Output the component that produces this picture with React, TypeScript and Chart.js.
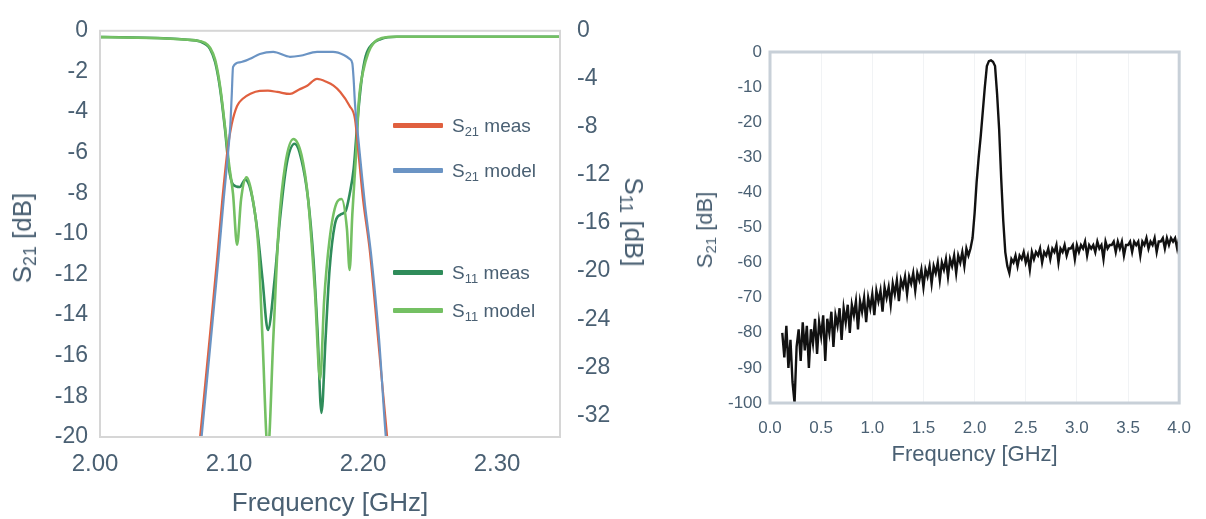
import React, { useEffect, useRef } from "react";
import { Chart, registerables } from "chart.js";
Chart.register(...registerables);

// ---------------- Narrow-band panel (left) ----------------
const narrowFreqTicks = [2.0, 2.1, 2.2, 2.3];
const s21Ticks = [0, -2, -4, -6, -8, -10, -12, -14, -16, -18, -20];
const s11Ticks = [0, -4, -8, -12, -16, -20, -24, -28, -32];

const s21MeasFreq = [2.072, 2.0784, 2.085, 2.091, 2.095, 2.099, 2.102, 2.106, 2.11, 2.116, 2.123, 2.129, 2.136, 2.1455, 2.152, 2.158, 2.1657, 2.173, 2.178, 2.183, 2.19, 2.194, 2.197, 2.2, 2.205, 2.211, 2.218, 2.224];
const s21Meas = [-24.5, -20, -15.5, -11.3, -8.3, -5.8, -4.6, -3.7, -3.36, -3.1, -2.96, -2.95, -3.01, -3.11, -2.9, -2.72, -2.37, -2.52, -2.7, -3.01, -3.7, -4.35, -6.3, -8.3, -10.8, -15, -20, -24];

const s21ModelFreq = [2.073, 2.0795, 2.086, 2.092, 2.096, 2.099, 2.101, 2.102, 2.103, 2.108, 2.1157, 2.123, 2.133, 2.1455, 2.153, 2.1657, 2.1776, 2.186, 2.19, 2.192, 2.193, 2.194, 2.196, 2.199, 2.2015, 2.206, 2.212, 2.217, 2.223];
const s21Model = [-24.5, -20, -15.5, -11.3, -8.3, -6.2, -4.6, -3.2, -1.78, -1.55, -1.38, -1.14, -1.04, -1.28, -1.23, -1.04, -1.04, -1.2, -1.38, -1.6, -2.4, -3.6, -5, -7, -8.6, -11, -15.2, -20, -24];

const s11MeasFreq = [1.99, 2.075, 2.0821, 2.0858, 2.0896, 2.0933, 2.097, 2.1, 2.103, 2.108, 2.112, 2.116, 2.121, 2.125, 2.129, 2.134, 2.138, 2.143, 2.149, 2.154, 2.159, 2.163, 2.166, 2.169, 2.172, 2.175, 2.179, 2.183, 2.187, 2.19, 2.193, 2.196, 2.199, 2.202, 2.207, 2.213, 2.225, 2.36];
const s11Meas = [-0.5, -0.8, -1.1, -1.5, -2.6, -4.8, -8.2, -11.5, -12.8, -13, -12.4, -13.2, -16.5, -20.7, -24.9, -20.7, -15.7, -11.1, -9.4, -10.7, -14, -19, -24.9, -31.8, -25.7, -19.9, -16.1, -15.3, -15, -13.6, -11.5, -7.3, -4, -2.1, -1.1, -0.7, -0.5, -0.5];

const s11ModelFreq = [1.99, 2.075, 2.0821, 2.0858, 2.0896, 2.0933, 2.097, 2.1, 2.103, 2.106, 2.109, 2.113, 2.117, 2.122, 2.125, 2.129, 2.133, 2.137, 2.142, 2.148, 2.154, 2.159, 2.164, 2.168, 2.171, 2.175, 2.18, 2.184, 2.188, 2.19, 2.192, 2.195, 2.197, 2.2, 2.204, 2.208, 2.214, 2.225, 2.36];
const s11Model = [-0.5, -0.8, -1.0, -1.4, -2.4, -4.6, -8, -11.1, -13.6, -17.8, -14, -12.2, -13.6, -18.2, -25.7, -35, -25.7, -16.5, -11.1, -9, -10.3, -14, -21.5, -29, -22.4, -17.4, -14.4, -14, -16.5, -19.9, -15.3, -9.9, -5.7, -3.4, -1.8, -1.0, -0.6, -0.5, -0.5];

const narrowLabels = ["S\u2082\u2081 meas", "S\u2082\u2081 model", "S\u2081\u2081 meas", "S\u2081\u2081 model"];
const narrowLegendSub = [["21", "meas"], ["21", "model"], ["11", "meas"], ["11", "model"]];
const narrowColors = ["#e0603f", "#6b94c4", "#2f8c5a", "#74c063"];

// ---------------- Wide-band panel (right) ----------------
const wideFreqTicks = [0, 0.5, 1.0, 1.5, 2.0, 2.5, 3.0, 3.5, 4.0];
const wideDbTicks = [0, -10, -20, -30, -40, -50, -60, -70, -80, -90, -100];
const wideStartGHz = 0.12;
const wideStepGHz = 0.02;
const wideS21 = [
  -80, -87, -78, -90, -82, -94, -100, -84, -79, -88,
  -77, -85, -78, -90, -79, -83, -76, -86, -77, -81,
  -75, -88, -76, -80, -74, -84, -75, -78, -73, -82,
  -73, -77, -72, -80, -72, -75, -71, -79, -71, -74,
  -70, -77, -70, -73, -69, -75, -68, -71, -68, -74,
  -67, -70, -67, -72, -66, -69, -65, -71, -65, -67,
  -64, -69, -64, -66, -63, -68, -63, -65, -62, -67,
  -62, -64, -61, -66, -61, -63, -60, -65, -60, -62,
  -59, -64, -59, -61, -58, -63, -58, -60, -57, -61,
  -56, -58, -56, -53,
  -46, -37, -30, -24, -17, -10, -4, -2.6, -2.4, -2.8, -4, -12, -22, -36, -48, -57,
  -61, -63, -59, -60, -58, -61, -58, -59, -57, -60,
  -58, -62, -57, -59, -57, -58, -56, -60, -57, -58,
  -56, -59, -56, -57, -55, -60, -56, -57, -55, -58,
  -56, -56, -55, -59, -55, -57, -55, -56, -54, -58,
  -55, -56, -55, -57, -54, -56, -55, -59, -54, -56,
  -55, -55, -54, -57, -54, -56, -54, -58, -55, -55,
  -54, -57, -54, -55, -54, -58, -54, -55, -53, -56,
  -54, -55, -53, -57, -54, -54, -53, -56, -53, -55,
  -53, -54, -53, -56, -53,
];

const FONT = "'Liberation Sans', Arial, 'DejaVu Sans', sans-serif";
const TXT = "#4a6073";

const pairs = (xs: number[], ys: number[]) => xs.map((x, i) => ({ x, y: ys[i] }));

const framePlugin = (color: string, width: number) => ({
  id: "frame",
  afterDatasetsDraw(chart: any) {
    const { ctx, chartArea: a } = chart;
    ctx.save();
    ctx.strokeStyle = color;
    ctx.lineWidth = width;
    ctx.strokeRect(a.left, a.top, a.right - a.left, a.bottom - a.top);
    ctx.restore();
  },
});

const fixTicks = (vals: number[]) => (scale: any) => {
  scale.ticks = vals.map((v) => ({ value: v }));
};

function NarrowChart() {
  const ref = useRef<HTMLCanvasElement>(null);
  useEffect(() => {
    const mk = (i: number, xs: number[], ys: number[], axis: string, w: number) => ({
      label: narrowLabels[i],
      data: pairs(xs, ys),
      borderColor: narrowColors[i],
      borderWidth: w,
      pointRadius: 0,
      cubicInterpolationMode: "monotone" as const,
      yAxisID: axis,
    });
    const chart = new Chart(ref.current!, {
      type: "line",
      data: {
        datasets: [
          mk(1, s21ModelFreq, s21Model, "y", 2.2),
          mk(0, s21MeasFreq, s21Meas, "y", 2.2),
          mk(3, s11ModelFreq, s11Model, "y2", 2.6),
          mk(2, s11MeasFreq, s11Meas, "y2", 2.6),
        ],
      },
      options: {
        animation: false,
        responsive: false,
        events: [],
        layout: { padding: { top: 29, left: 0, right: 0, bottom: 0 } },
        plugins: { legend: { display: false }, tooltip: { enabled: false } },
        scales: {
          x: {
            type: "linear",
            min: 2.0037,
            max: 2.347,
            afterBuildTicks: fixTicks(narrowFreqTicks),
            afterFit: (s: any) => { s.height = 82; },
            grid: { display: false, drawTicks: false },
            border: { display: false },
            ticks: { padding: 13, color: TXT, font: { family: FONT, size: 24 }, callback: (v: any) => Number(v).toFixed(2) },
            title: { display: true, text: "Frequency [GHz]", color: TXT, font: { family: FONT, size: 26 }, padding: { top: 0, bottom: 0 } },
          },
          y: {
            position: "left",
            min: -20,
            max: 0,
            afterBuildTicks: fixTicks(s21Ticks),
            afterFit: (s: any) => { s.width = 100; },
            grid: { display: false, drawTicks: false },
            border: { display: false },
            ticks: { padding: 12, color: TXT, font: { family: FONT, size: 23 } },
          },
          y2: {
            position: "right",
            min: -33.8,
            max: 0,
            afterBuildTicks: fixTicks(s11Ticks),
            afterFit: (s: any) => { s.width = 110; },
            grid: { display: false, drawTicks: false },
            border: { display: false },
            ticks: { padding: 17, color: TXT, font: { family: FONT, size: 23 } },
          },
        },
      },
      plugins: [framePlugin("#d6d6d6", 2)],
    } as any);
    return () => chart.destroy();
  }, []);
  return <canvas ref={ref} width={670} height={519} style={{ position: "absolute", left: 0, top: 0 }} />;
}

function WideChart() {
  const ref = useRef<HTMLCanvasElement>(null);
  useEffect(() => {
    const pts = wideS21.map((y, i) => ({ x: +(wideStartGHz + i * wideStepGHz).toFixed(2), y }));
    const chart = new Chart(ref.current!, {
      type: "line",
      data: {
        datasets: [
          { label: "S21", data: pts, borderColor: "#111111", borderWidth: 2.4, pointRadius: 0, tension: 0 },
        ],
      },
      options: {
        animation: false,
        responsive: false,
        events: [],
        layout: { padding: { top: 52, left: 0, right: 24, bottom: 0 } },
        plugins: { legend: { display: false }, tooltip: { enabled: false } },
        scales: {
          x: {
            type: "linear",
            min: 0,
            max: 4,
            afterBuildTicks: fixTicks(wideFreqTicks),
            afterFit: (s: any) => { s.height = 116; },
            grid: { color: "#f1f3f5", drawTicks: false },
            border: { display: false },
            ticks: { padding: 15, color: TXT, font: { family: FONT, size: 17 }, callback: (v: any) => Number(v).toFixed(1) },
            title: { display: true, text: "Frequency [GHz]", color: TXT, font: { family: FONT, size: 22 }, padding: { top: 0, bottom: 51 } },
          },
          y: {
            min: -100,
            max: 0,
            afterBuildTicks: fixTicks(wideDbTicks),
            afterFit: (s: any) => { s.width = 90; },
            grid: { display: false, drawTicks: false },
            border: { display: false },
            ticks: { padding: 8, color: TXT, font: { family: FONT, size: 17 } },
          },
        },
      },
      plugins: [framePlugin("#c8d0d8", 3)],
    } as any);
    return () => chart.destroy();
  }, []);
  return <canvas ref={ref} width={526} height={519} style={{ position: "absolute", left: 680, top: 0 }} />;
}

const subStyle: React.CSSProperties = { fontSize: "68%", verticalAlign: "-0.28em", lineHeight: 0 };

function SParamTitle({ sub, cx, cy, deg, size }: { sub: string; cx: number; cy: number; deg: number; size: number }) {
  return (
    <div
      style={{
        position: "absolute",
        left: cx,
        top: cy,
        transform: `translate(-50%, -50%) rotate(${deg}deg)`,
        fontFamily: FONT,
        fontSize: size,
        color: TXT,
        whiteSpace: "nowrap",
        lineHeight: 1,
      }}
    >
      S<span style={subStyle}>{sub}</span> [dB]
    </div>
  );
}

const legendRows = [125, 170, 272, 310];

function NarrowLegend() {
  return (
    <>
      {narrowLegendSub.map(([sub, word], i) => (
        <div key={i} title={narrowLabels[i]} style={{ position: "absolute", left: 393, top: legendRows[i] - 12, height: 24, display: "flex", alignItems: "center" }}>
          <div style={{ width: 50, height: 5, background: narrowColors[i], borderRadius: 1 }} />
          <span style={{ marginLeft: 9, fontFamily: FONT, fontSize: 19, color: TXT, whiteSpace: "nowrap", lineHeight: 1 }}>
            S<span style={subStyle}>{sub}</span> {word}
          </span>
        </div>
      ))}
    </>
  );
}

export default function App() {
  return (
    <div style={{ position: "absolute", left: 0, top: 0, width: 1206, height: 519, background: "#ffffff", overflow: "hidden" }}>
      <NarrowChart />
      <NarrowLegend />
      <SParamTitle sub="21" cx={22} cy={238} deg={-90} size={26} />
      <SParamTitle sub="11" cx={634} cy={222} deg={90} size={26} />
      <WideChart />
      <SParamTitle sub="21" cx={705} cy={230} deg={-90} size={22} />
    </div>
  );
}
